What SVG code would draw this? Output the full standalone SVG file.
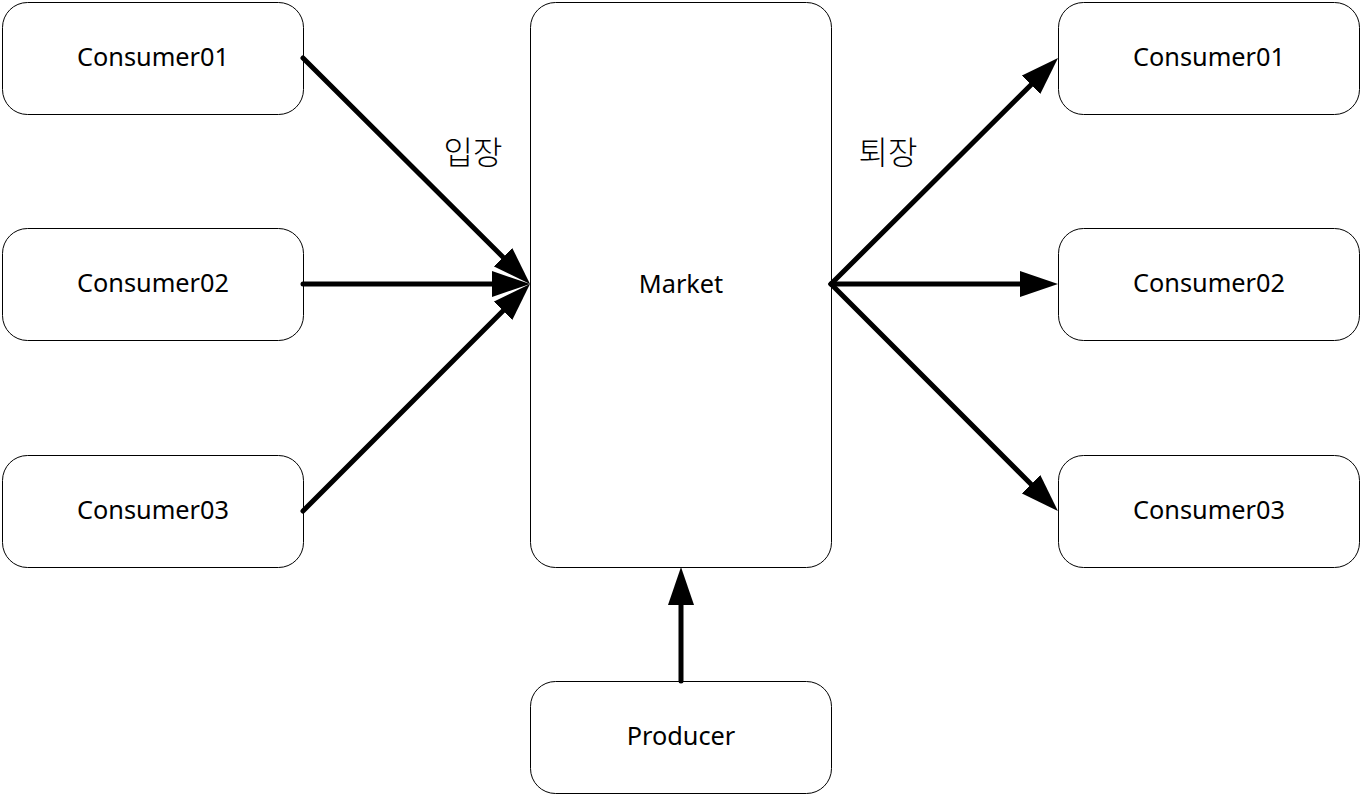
<svg xmlns="http://www.w3.org/2000/svg" width="1362" height="795" viewBox="0 0 1362 795">
<style>
.node rect{fill:#fff;stroke:#000;stroke-width:1}
.node text{font-family:"Noto Sans","Noto Sans CJK KR",sans-serif;font-size:25.3px;fill:#000;text-anchor:middle;dominant-baseline:central}
.lbl{font-family:"Noto Sans CJK KR","Noto Sans",sans-serif;font-size:32px;font-weight:300;fill:#000;text-anchor:middle;dominant-baseline:central}
.edge{stroke:#000;stroke-width:5;stroke-linecap:round;fill:none;marker-end:url(#ah)}
</style>
<defs>
<marker id="ah" viewBox="0 0 38 26" refX="0" refY="13" markerWidth="38" markerHeight="26" markerUnits="userSpaceOnUse" orient="auto">
<path d="M0,0 L38,13 L0,26 z" fill="#000"/>
</marker>
</defs>
<rect width="1362" height="795" fill="#fff"/>
<g id="market" class="node"><rect x="530.5" y="2.5" width="301" height="565" rx="25"/><text x="681" y="283">Market</text></g>
<g id="l1" class="node"><rect x="2.5" y="2.5" width="301" height="112" rx="25"/><text x="153" y="56">Consumer01</text></g>
<g id="l2" class="node"><rect x="2.5" y="228.5" width="301" height="112" rx="25"/><text x="153" y="282">Consumer02</text></g>
<g id="l3" class="node"><rect x="2.5" y="455.5" width="301" height="112" rx="25"/><text x="153" y="509">Consumer03</text></g>
<g id="r1" class="node"><rect x="1058.5" y="2.5" width="301" height="112" rx="25"/><text x="1209" y="56">Consumer01</text></g>
<g id="r2" class="node"><rect x="1058.5" y="228.5" width="301" height="112" rx="25"/><text x="1209" y="282">Consumer02</text></g>
<g id="r3" class="node"><rect x="1058.5" y="455.5" width="301" height="112" rx="25"/><text x="1209" y="509">Consumer03</text></g>
<g id="producer" class="node"><rect x="530.5" y="681.5" width="301" height="112" rx="25"/><text x="681" y="735">Producer</text></g>
<g id="connectors">
<path class="edge" d="M303,58 L503.1,257.2"/>
<path class="edge" d="M303,284 L492,284"/>
<path class="edge" d="M303,511 L503.1,310.8"/>
<path class="edge" d="M831,284 L1031.1,84.8"/>
<path class="edge" d="M831,284 L1020,284"/>
<path class="edge" d="M831,284 L1031.1,484.2"/>
<path class="edge" d="M681,681 L681,605"/>
</g>
<text class="lbl" x="473" y="150">입장</text>
<text class="lbl" x="888" y="150">퇴장</text>
</svg>
